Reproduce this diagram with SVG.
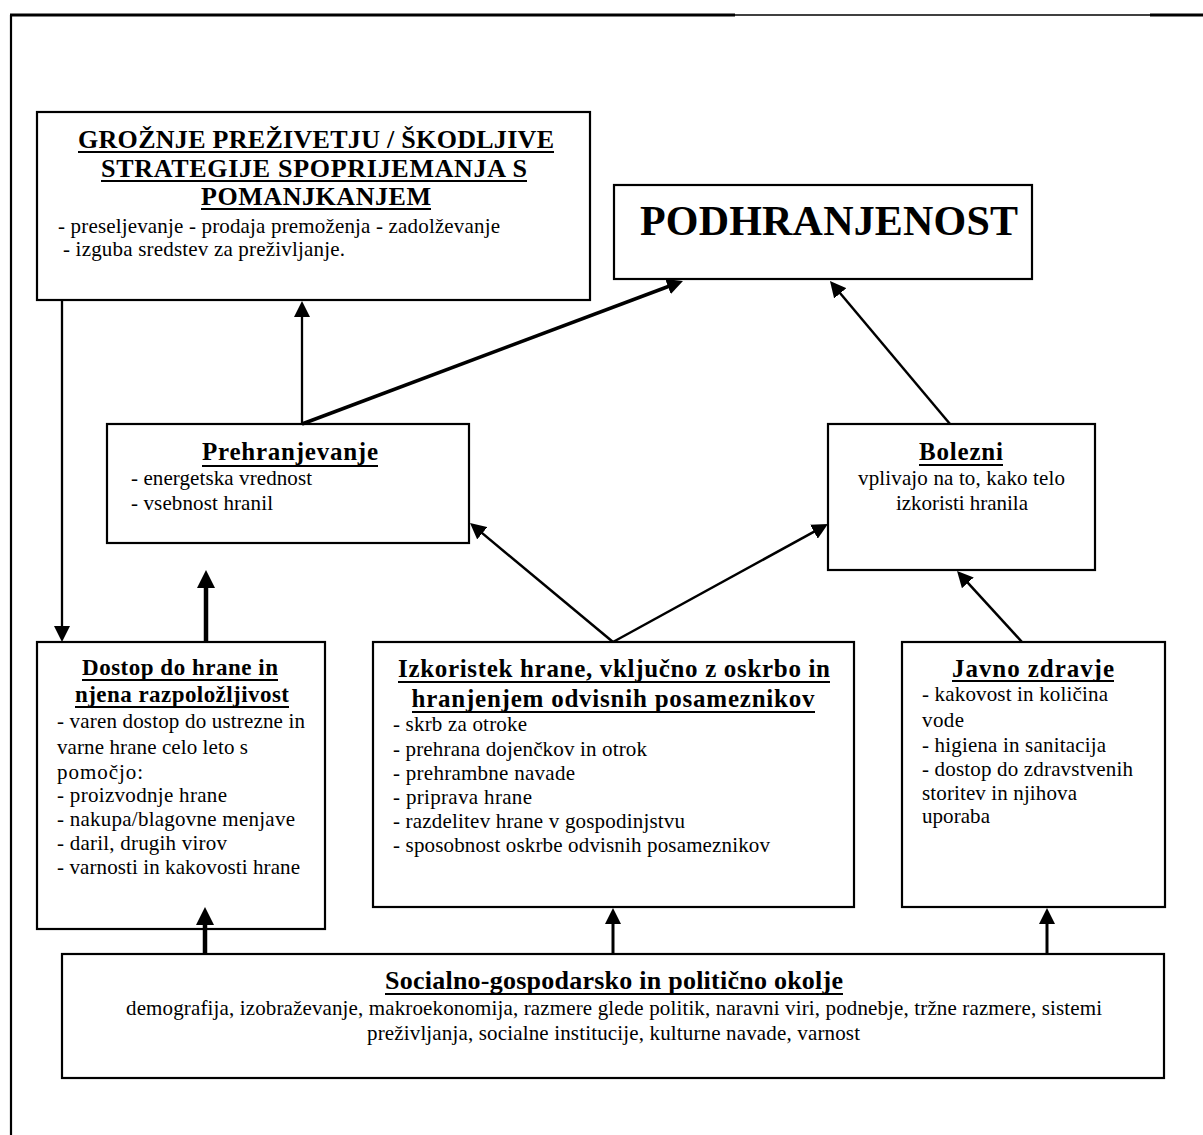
<svg xmlns="http://www.w3.org/2000/svg" width="1203" height="1135" viewBox="0 0 1203 1135">
<style>
  .box { fill: #ffffff; stroke: #000000; stroke-width: 2.2; }
  .t { font-family: "Liberation Serif", "Times New Roman", serif; font-weight: bold; font-size: 25px; fill: #000; }
  .big { font-family: "Liberation Serif", "Times New Roman", serif; font-weight: bold; font-size: 42px; fill: #000; }
  .b { font-family: "Liberation Serif", "Times New Roman", serif; font-size: 21px; fill: #000; }
  .u { stroke: #000; stroke-width: 2; }
  .c { stroke: #000; fill: none; }
  .frame { stroke: #000; fill: none; }
</style>
<defs>
  <marker id="ah" markerUnits="userSpaceOnUse" markerWidth="16" markerHeight="16" viewBox="0 0 16 16" refX="6" refY="8" orient="auto">
    <path d="M0,0 L16,8 L0,16 z" fill="#000"/>
  </marker>
  <marker id="ahb" markerUnits="userSpaceOnUse" markerWidth="18" markerHeight="18" viewBox="0 0 18 18" refX="8" refY="9" orient="auto">
    <path d="M0,0 L18,9 L0,18 z" fill="#000"/>
  </marker>
</defs>

<g id="frame">
  <line class="frame" x1="11" y1="15" x2="11" y2="1135" stroke-width="2.2"/>
  <line class="frame" x1="10" y1="15" x2="735" y2="15" stroke-width="3"/>
  <line class="frame" x1="735" y1="15" x2="1150" y2="15" stroke-width="1.5"/>
  <line class="frame" x1="1150" y1="15" x2="1203" y2="15" stroke-width="3"/>
</g>

<g id="node-groznje">
  <rect class="box" x="37" y="112" width="553" height="188"/>
  <text class="t" x="316" y="148" text-anchor="middle" textLength="476" style="font-size:26px">GROŽNJE PREŽIVETJU / ŠKODLJIVE</text>
  <line class="u" x1="78" y1="152" x2="554" y2="152"/>
  <text class="t" x="314" y="177" text-anchor="middle" textLength="426" style="font-size:26px">STRATEGIJE SPOPRIJEMANJA S</text>
  <line class="u" x1="101" y1="181" x2="527" y2="181"/>
  <text class="t" x="316" y="205" text-anchor="middle" textLength="230" style="font-size:26px">POMANJKANJEM</text>
  <line class="u" x1="201" y1="209" x2="431" y2="209"/>
  <text class="b" x="58" y="233" textLength="442">- preseljevanje - prodaja premoženja - zadolževanje</text>
  <text class="b" x="63" y="256" textLength="282">- izguba sredstev za preživljanje.</text>
</g>

<g id="node-podhranjenost">
  <rect class="box" x="614" y="185" width="418" height="94"/>
  <text class="big" x="640" y="235" textLength="378">PODHRANJENOST</text>
</g>

<g id="node-prehranjevanje">
  <rect class="box" x="107" y="424" width="362" height="119"/>
  <text class="t" x="290" y="460" text-anchor="middle" textLength="176">Prehranjevanje</text>
  <line class="u" x1="202" y1="466" x2="378" y2="466"/>
  <text class="b" x="131" y="485" textLength="181">- energetska vrednost</text>
  <text class="b" x="131" y="510" textLength="142">- vsebnost hranil</text>
</g>

<g id="node-bolezni">
  <rect class="box" x="828" y="424" width="267" height="146"/>
  <text class="t" x="961" y="460" text-anchor="middle" textLength="84">Bolezni</text>
  <line class="u" x1="919" y1="465" x2="1003" y2="465"/>
  <text class="b" x="961.5" y="485" text-anchor="middle" textLength="207">vplivajo na to, kako telo</text>
  <text class="b" x="962" y="510" text-anchor="middle" textLength="132">izkoristi hranila</text>
</g>

<g id="node-dostop">
  <rect class="box" x="37" y="642" width="288" height="287"/>
  <text class="t" x="180" y="675" text-anchor="middle" textLength="196" style="font-size:23px">Dostop do hrane in</text>
  <line class="u" x1="82" y1="680" x2="278" y2="680"/>
  <text class="t" x="182" y="702" text-anchor="middle" textLength="214" style="font-size:23px">njena razpoložljivost</text>
  <line class="u" x1="75" y1="707" x2="289" y2="707"/>
  <text class="b" x="57" y="728" textLength="248">- varen dostop do ustrezne in</text>
  <text class="b" x="57" y="754" textLength="191">varne hrane celo leto s</text>
  <text class="b" x="57" y="779" textLength="86">pomočjo:</text>
  <text class="b" x="57" y="802" textLength="170">- proizvodnje hrane</text>
  <text class="b" x="57" y="826" textLength="238">- nakupa/blagovne menjave</text>
  <text class="b" x="57" y="850" textLength="170">- daril, drugih virov</text>
  <text class="b" x="57" y="874" textLength="243">- varnosti in kakovosti hrane</text>
</g>

<g id="node-izkoristek">
  <rect class="box" x="373" y="642" width="481" height="265"/>
  <text class="t" x="614" y="677" text-anchor="middle" textLength="432">Izkoristek hrane, vključno z oskrbo in</text>
  <line class="u" x1="398" y1="682" x2="830" y2="682"/>
  <text class="t" x="613" y="707" text-anchor="middle" textLength="403">hranjenjem odvisnih posameznikov</text>
  <line class="u" x1="412" y1="712" x2="815" y2="712"/>
  <text class="b" x="393" y="731" textLength="134">- skrb za otroke</text>
  <text class="b" x="393" y="756" textLength="254">- prehrana dojenčkov in otrok</text>
  <text class="b" x="393" y="780" textLength="182">- prehrambne navade</text>
  <text class="b" x="393" y="804" textLength="139">- priprava hrane</text>
  <text class="b" x="393" y="828" textLength="292">- razdelitev hrane v gospodinjstvu</text>
  <text class="b" x="393" y="852" textLength="377">- sposobnost oskrbe odvisnih posameznikov</text>
</g>

<g id="node-javno">
  <rect class="box" x="902" y="642" width="263" height="265"/>
  <text class="t" x="1033" y="677" text-anchor="middle" textLength="162">Javno zdravje</text>
  <line class="u" x1="952" y1="681" x2="1114" y2="681"/>
  <text class="b" x="922" y="701" textLength="186">- kakovost in količina</text>
  <text class="b" x="922" y="727" textLength="42">vode</text>
  <text class="b" x="922" y="752" textLength="184">- higiena in sanitacija</text>
  <text class="b" x="922" y="776" textLength="211">- dostop do zdravstvenih</text>
  <text class="b" x="922" y="800" textLength="155">storitev in njihova</text>
  <text class="b" x="922" y="823" textLength="68">uporaba</text>
</g>

<g id="node-socialno">
  <rect class="box" x="62" y="954" width="1102" height="124" stroke-width="2.6"/>
  <text class="t" x="614" y="989" text-anchor="middle" textLength="458" style="font-size:26px">Socialno-gospodarsko in politično okolje</text>
  <line class="u" x1="385" y1="994" x2="843" y2="994"/>
  <text class="b" x="614" y="1015" text-anchor="middle" textLength="976">demografija, izobraževanje, makroekonomija, razmere glede politik, naravni viri, podnebje, tržne razmere, sistemi</text>
  <text class="b" x="613.5" y="1040" text-anchor="middle" textLength="493">preživljanja, socialne institucije, kulturne navade, varnost</text>
</g>

<g id="connectors">
  <line class="c" stroke-width="2.3" x1="62" y1="300" x2="62" y2="632" marker-end="url(#ah)"/>
  <line class="c" stroke-width="2.3" x1="302" y1="424" x2="302" y2="311" marker-end="url(#ah)"/>
  <line class="c" stroke-width="3.5" x1="302" y1="424" x2="673.6" y2="284.5" marker-end="url(#ah)"/>
  <line class="c" stroke-width="2.5" x1="950" y1="424" x2="836.4" y2="288.7" marker-end="url(#ah)"/>
  <line class="c" stroke-width="2.5" x1="613" y1="642" x2="477.7" y2="529.4" marker-end="url(#ah)"/>
  <line class="c" stroke-width="2.5" x1="613" y1="642" x2="819.2" y2="528.8" marker-end="url(#ah)"/>
  <line class="c" stroke-width="2.5" x1="1022" y1="642" x2="963.8" y2="578.4" marker-end="url(#ah)"/>
  <line class="c" stroke-width="4.5" x1="206" y1="642" x2="206" y2="580" marker-end="url(#ahb)"/>
  <line class="c" stroke-width="4.5" x1="205" y1="954" x2="205" y2="917" marker-end="url(#ahb)"/>
  <line class="c" stroke-width="3" x1="613" y1="954" x2="613" y2="918" marker-end="url(#ah)"/>
  <line class="c" stroke-width="3" x1="1047" y1="954" x2="1047" y2="918" marker-end="url(#ah)"/>
</g>
</svg>
